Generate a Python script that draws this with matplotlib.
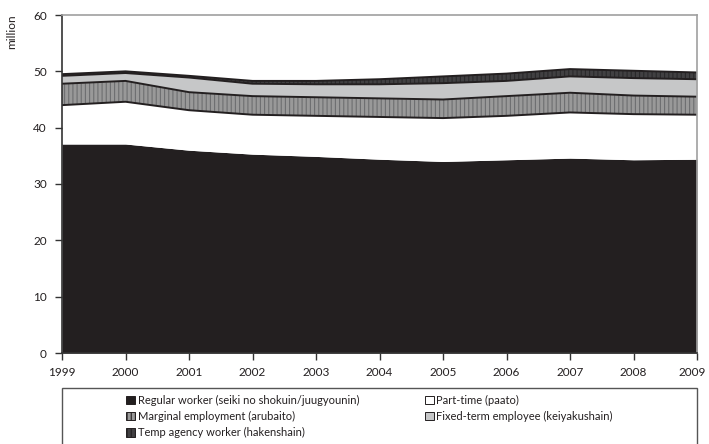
import numpy as np
import matplotlib
matplotlib.use("Agg")
import matplotlib.pyplot as plt
import matplotlib.transforms as mtransforms
from matplotlib.patches import Patch, Rectangle

plt.rcParams['font.family'] = ['Lato', 'DejaVu Sans']
plt.rcParams['hatch.linewidth'] = 0.8

years = [1999, 2000, 2001, 2002, 2003, 2004, 2005, 2006, 2007, 2008, 2009]

# million workers
regular = [37.1, 37.1, 36.0, 35.3, 34.9, 34.4, 34.0, 34.3, 34.6, 34.3, 34.4]
part_time = [6.9, 7.5, 7.1, 7.0, 7.2, 7.5, 7.7, 7.8, 8.1, 8.1, 7.9]
marginal = [3.8, 3.7, 3.2, 3.3, 3.3, 3.3, 3.3, 3.5, 3.5, 3.3, 3.2]
fixed_term = [1.4, 1.4, 2.6, 2.2, 2.3, 2.5, 2.9, 2.7, 2.9, 3.1, 3.1]
temp_agency = [0.3, 0.3, 0.3, 0.5, 0.6, 0.9, 1.2, 1.3, 1.3, 1.3, 1.2]

labels = [
    "Regular worker (seiki no shokuin/juugyounin)",
    "Part-time (paato)",
    "Marginal employment (arubaito)",
    "Fixed-term employee (keiyakushain)",
    "Temp agency worker (hakenshain)",
]
face = ['#231f20', '#ffffff', '#999999', '#c6c7c8', '#414042']
hatch_col = ['#231f20', '#ffffff', '#6d6e70', '#c6c7c8', '#2a2a2b']
hatches = [None, None, '||||', None, '||||']

series = [regular, part_time, marginal, fixed_term, temp_agency]

fig = plt.figure(figsize=(7.09, 4.44), dpi=100)
ax = fig.add_axes([62 / 709, 1 - 353 / 444, 635 / 709, 338 / 444])

polys = ax.stackplot(years, *series, colors=face, linewidth=0)
for p, h, hc in zip(polys, hatches, hatch_col):
    p.set_edgecolor(hc)
    if h:
        p.set_hatch(h)

# boundary lines between layers
tops = np.cumsum(np.array(series), axis=0)
for row in tops[1:]:
    ax.plot(years, row, color='#231f20', lw=1.4, solid_capstyle='butt')

ax.set_xlim(1999, 2009)
ax.set_ylim(0, 60)
ax.set_xticks(years)
ax.set_yticks(range(0, 61, 10))
ax.tick_params(direction='out', length=5, width=1, color='#333333',
               labelsize=8.5, colors='#231f20')
ax.tick_params(axis='x', pad=5)
ax.tick_params(axis='y', pad=6)
for s in ['left', 'bottom']:
    ax.spines[s].set_color('#333333')
    ax.spines[s].set_linewidth(1.2)
for s in ['top', 'right']:
    ax.spines[s].set_color('#a0a0a0')
    ax.spines[s].set_linewidth(1.2)

# nudge the last year label so it stays inside the canvas
last = ax.get_xticklabels()[-1]
last.set_transform(last.get_transform() +
                   mtransforms.ScaledTranslation(-0.05, 0, fig.dpi_scale_trans))

fig.text(12 / 709, 1 - 32 / 444, 'million', rotation=90, ha='center', va='center',
         fontsize=8.5, color='#231f20')

# legend box, runs off the bottom edge
fig.patches.append(Rectangle((62 / 709, -0.05), 635 / 709, (444 - 388) / 444 + 0.05,
                             transform=fig.transFigure, facecolor='white',
                             edgecolor='#555555', lw=1.0))

handles = [Patch(facecolor=f, edgecolor='#231f20', hatch=h, lw=0.7)
           for f, h in zip(face, hatches)]
order = [0, 2, 4, 1, 3]
fig.legend([handles[i] for i in order], [labels[i] for i in order],
           loc='upper left', bbox_to_anchor=(126 / 709, 1 - 395 / 444),
           ncol=2, frameon=False, fontsize=8, handlelength=0.8,
           handleheight=0.8, handletextpad=0.25, columnspacing=5.9,
           labelspacing=0.45, borderpad=0, borderaxespad=0,
           labelcolor='#231f20')

fig.savefig('out.png', dpi=100)
